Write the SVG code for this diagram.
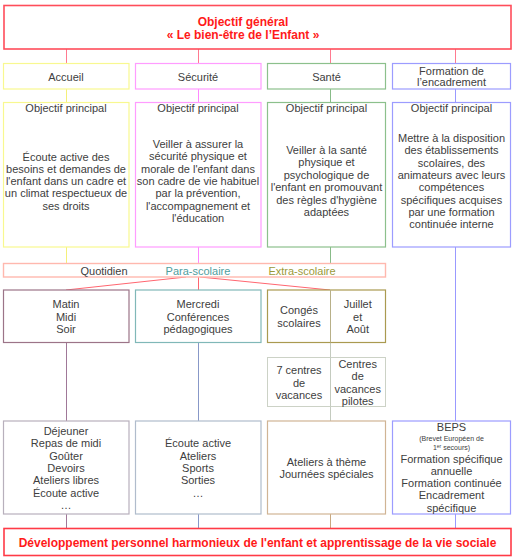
<svg xmlns="http://www.w3.org/2000/svg" width="514" height="560" viewBox="0 0 514 560">
<style>
text{font-family:"Liberation Sans",Arial,sans-serif;font-size:11px;fill:#404040;text-anchor:middle}
.t{font-weight:bold;font-size:12px;fill:#ff1a1a}
.sm{font-size:7px}
.box{fill:#fff;stroke-width:1.2}
.ln{fill:none;stroke-width:1}
</style>
<rect width="514" height="560" fill="#fff"/>
<g id="connectors">
<g class="ln">
<path d="M66.5 49V63M198.5 49V63M330.5 49V63M455.5 49V63" stroke="#ff7a90"/>
<path d="M66.5 89V102M66.5 247V263" stroke="#f5f07a"/>
<path d="M198.5 89V102M198.5 247V263" stroke="#ff88ff"/>
<path d="M330.5 89V102M330.5 247V263" stroke="#88bb88"/>
<path d="M455.5 89V102M455.5 247V421" stroke="#9999ff"/>
<path d="M186 277L66 290M198.5 277V290M200 277L330 290" stroke="#ff6670"/>
<path d="M66.5 343V421" stroke="#a07898"/>
<path d="M198.5 343V421" stroke="#8898c8"/>
<path d="M330.5 290V421" stroke="#c4cbbf"/>
<path d="M66.5 514V528" stroke="#a07898"/>
<path d="M198.5 514V528" stroke="#8898c8"/>
<path d="M330.5 514V528" stroke="#c8a880"/>
<path d="M455.5 514V528" stroke="#9999ff"/>
</g>
</g>
<g id="objectif-general">
<rect x="4" y="5.5" width="507" height="43.5" fill="#fff" stroke="#ff4d5a" stroke-width="1.6"/>
<text class="t" x="243" y="25.5">Objectif général</text>
<text class="t" x="243" y="38.5">« Le bien-être de l’Enfant »</text>
</g>
<g id="accueil">
<rect class="box" x="3.5" y="63.5" width="125.5" height="25.5" stroke="#f8f890"/>
<text x="66" y="80.5">Accueil</text>
</g>
<g id="securite">
<rect class="box" x="135.5" y="63.5" width="125.5" height="25.5" stroke="#ff9cff"/>
<text x="198" y="80.5">Sécurité</text>
</g>
<g id="sante">
<rect class="box" x="267.5" y="63.5" width="118" height="25.5" stroke="#8cc08c"/>
<text x="326.5" y="80.5">Santé</text>
</g>
<g id="formation">
<rect class="box" x="392.5" y="63.5" width="118" height="25.5" stroke="#9c9cff"/>
<text x="451.5" y="74.5">Formation de</text>
<text x="451.5" y="86">l’encadrement</text>
</g>
<g id="obj-accueil">
<rect class="box" x="3.5" y="102.5" width="125.5" height="144.5" stroke="#f8f890"/>
<text x="66" y="111.5">Objectif principal</text>
<text x="66" y="160.5">Écoute active des</text>
<text x="66" y="172.8">besoins et demandes de</text>
<text x="66" y="185.1">l'enfant dans un cadre et</text>
<text x="66" y="197.4">un climat respectueux de</text>
<text x="66" y="209.7">ses droits</text>
</g>
<g id="obj-securite">
<rect class="box" x="135.5" y="102.5" width="125.5" height="144.5" stroke="#ff9cff"/>
<text x="198" y="111.5">Objectif principal</text>
<text x="198" y="148">Veiller à assurer la</text>
<text x="198" y="160.3">sécurité physique et</text>
<text x="198" y="172.6">morale de l'enfant dans</text>
<text x="198" y="184.9">son cadre de vie habituel</text>
<text x="198" y="197.2">par la prévention,</text>
<text x="198" y="209.5">l'accompagnement et</text>
<text x="198" y="221.8">l'éducation</text>
</g>
<g id="obj-sante">
<rect class="box" x="267.5" y="102.5" width="118" height="144.5" stroke="#8cc08c"/>
<text x="326.5" y="111.5">Objectif principal</text>
<text x="326.5" y="154">Veiller à la santé</text>
<text x="326.5" y="166.4">physique et</text>
<text x="326.5" y="178.8">psychologique de</text>
<text x="326.5" y="191.2">l'enfant en promouvant</text>
<text x="326.5" y="203.6">des règles d'hygiène</text>
<text x="326.5" y="216">adaptées</text>
</g>
<g id="obj-formation">
<rect class="box" x="392.5" y="102.5" width="118" height="144.5" stroke="#9c9cff"/>
<text x="451.5" y="111.5">Objectif principal</text>
<text x="451.5" y="142">Mettre à la disposition</text>
<text x="451.5" y="154.3">des établissements</text>
<text x="451.5" y="166.6">scolaires, des</text>
<text x="451.5" y="178.9">animateurs avec leurs</text>
<text x="451.5" y="191.2">compétences</text>
<text x="451.5" y="203.5">spécifiques acquises</text>
<text x="451.5" y="215.8">par une formation</text>
<text x="451.5" y="228.1">continuée interne</text>
</g>
<g id="bande">
<rect x="3.5" y="263.5" width="382" height="13.5" fill="#fff" stroke="#ffb8ae" stroke-width="1.4"/>
<text x="104" y="274.5">Quotidien</text>
<text x="198" y="274.5" style="fill:#4f9e9e">Para-scolaire</text>
<text x="302" y="274.5" style="fill:#9a9a3a">Extra-scolaire</text>
</g>
<g id="quotidien">
<rect class="box" x="3.5" y="290" width="125.5" height="52.5" stroke="#9c7488" stroke-width="1.4"/>
<text x="66" y="308">Matin</text>
<text x="66" y="320.5">Midi</text>
<text x="66" y="333">Soir</text>
</g>
<g id="parascolaire">
<rect class="box" x="135.5" y="290" width="125.5" height="52.5" stroke="#80b8b8"/>
<text x="198" y="308">Mercredi</text>
<text x="198" y="320.5">Conférences</text>
<text x="198" y="333">pédagogiques</text>
</g>
<g id="extrascolaire">
<rect class="box" x="267.5" y="290" width="118" height="52.5" stroke="#aa9a50"/>
<line x1="330.5" y1="290" x2="330.5" y2="342.5" stroke="#b8b088" stroke-width="1"/>
<text x="299" y="314">Congés</text>
<text x="299" y="326.5">scolaires</text>
<text x="357.7" y="308">Juillet</text>
<text x="357.7" y="320.5">et</text>
<text x="357.7" y="333">Août</text>
</g>
<g id="centres">
<rect x="267.5" y="357.5" width="118" height="49" fill="#fff" stroke="#ccd2c6" stroke-width="1"/>
<line x1="330.5" y1="357.5" x2="330.5" y2="406.5" stroke="#c4cbbf" stroke-width="1"/>
<text x="299" y="374">7 centres</text>
<text x="299" y="386.5">de</text>
<text x="299" y="398.5">vacances</text>
<text x="357.7" y="368">Centres</text>
<text x="357.7" y="380.3">de</text>
<text x="357.7" y="392.6">vacances</text>
<text x="357.7" y="404.9">pilotes</text>
</g>
<g id="activites-quotidien">
<rect class="box" x="3.5" y="421" width="125.5" height="93" stroke="#b8b0bc"/>
<text x="66" y="435">Déjeuner</text>
<text x="66" y="447.3">Repas de midi</text>
<text x="66" y="459.6">Goûter</text>
<text x="66" y="471.9">Devoirs</text>
<text x="66" y="484.2">Ateliers libres</text>
<text x="66" y="496.5">Écoute active</text>
<text x="66" y="508.8">…</text>
</g>
<g id="activites-parascolaire">
<rect class="box" x="135.5" y="421" width="125.5" height="93" stroke="#b0bccc"/>
<text x="198" y="447.3">Écoute active</text>
<text x="198" y="459.6">Ateliers</text>
<text x="198" y="471.9">Sports</text>
<text x="198" y="484.2">Sorties</text>
<text x="198" y="496.5">…</text>
</g>
<g id="activites-extrascolaire">
<rect class="box" x="267.5" y="421" width="118" height="93" stroke="#d0b494"/>
<text x="326.5" y="465.5">Ateliers à thème</text>
<text x="326.5" y="477.5">Journées spéciales</text>
</g>
<g id="activites-formation">
<rect class="box" x="392.5" y="421" width="118" height="93" stroke="#9c9cff"/>
<text x="451.5" y="430.5">BEPS</text>
<text class="sm" x="451.5" y="441">(Brevet Européen de</text>
<text class="sm" x="451.5" y="450">1<tspan font-size="5" dy="-2.5">er</tspan><tspan dy="2.5"> secours)</tspan></text>
<text x="451.5" y="462.5">Formation spécifique</text>
<text x="451.5" y="474.8">annuelle</text>
<text x="451.5" y="487.1">Formation continuée</text>
<text x="451.5" y="499.4">Encadrement</text>
<text x="451.5" y="511.7">spécifique</text>
</g>
<g id="developpement">
<rect x="4" y="528.5" width="507" height="27" fill="#fff" stroke="#ff3a46" stroke-width="1.6"/>
<text class="t" x="257.5" y="547">Développement personnel harmonieux de l'enfant et apprentissage de la vie sociale</text>
</g>
</svg>
